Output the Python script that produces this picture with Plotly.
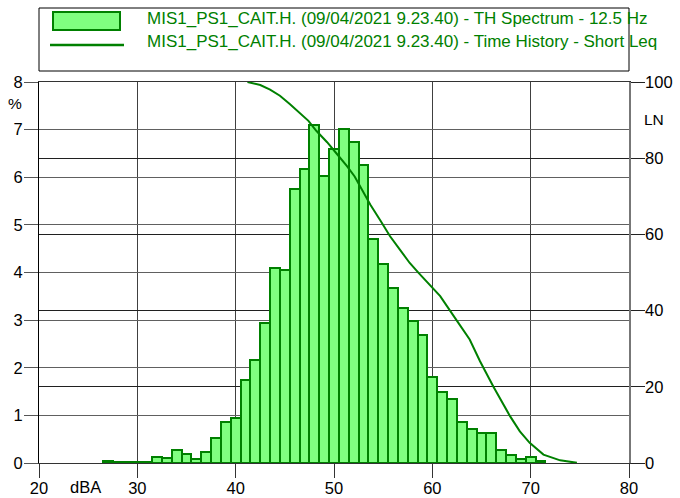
import plotly.graph_objects as go

# ---- data ----
bar_x = list(range(27, 72))
bar_pct = [0.05, 0.02, 0.02, 0.02, 0.02, 0.12, 0.11, 0.27, 0.19, 0.08,
           0.23, 0.53, 0.86, 0.95, 1.75, 2.16, 2.95, 4.09, 4.05, 5.76,
           6.18, 7.10, 6.03, 6.60, 7.02, 6.75, 6.25, 4.70, 4.17, 3.68,
           3.26, 2.98, 2.68, 1.81, 1.50, 1.35, 0.87, 0.72, 0.64, 0.64,
           0.27, 0.16, 0.09, 0.12, 0.05]

ln_x = [41.2, 42.5, 43.5, 44.5, 45.5, 46.5, 47.4, 48.2, 49.3, 50.3,
        51.3, 52.1, 52.65, 53.7, 54.7, 55.7, 56.7, 57.7, 58.6, 59.9,
        60.8, 62.3, 63.8, 64.85, 66.2, 67.9, 68.9, 69.9, 71.3, 73.0, 74.7]
ln_y = [100.0, 99.2, 98.0, 96.4, 94.2, 91.9, 89.8, 87.2, 84.2, 81.1,
        78.0, 75.2, 72.6, 67.8, 63.7, 59.5, 56.0, 52.5, 49.9, 46.4,
        43.8, 38.1, 32.4, 26.7, 20.1, 12.3, 8.3, 5.3, 2.2, 0.7, 0.05]

name_bar = "MIS1_PS1_CAIT.H. (09/04/2021 9.23.40) - TH Spectrum - 12.5 Hz"
name_line = "MIS1_PS1_CAIT.H. (09/04/2021 9.23.40) - Time History - Short Leq"

x_ticks = [20, 30, 40, 50, 60, 70, 80]
y_ticks = [0, 1, 2, 3, 4, 5, 6, 7, 8]
y2_ticks = [0, 20, 40, 60, 80, 100]

DARK = "#008000"
LIGHT = "#80FF80"
FONT = "Arial, Liberation Sans, sans-serif"
FS = 16.5

fig = go.Figure()
fig.add_trace(go.Bar(x=bar_x, y=bar_pct, width=1, name=name_bar,
                     marker=dict(color=LIGHT, line=dict(color=DARK, width=2)),
                     showlegend=False))
fig.add_trace(go.Scatter(x=ln_x, y=ln_y, yaxis="y2", mode="lines", name=name_line,
                         line=dict(color=DARK, width=2), showlegend=False))

fig.update_layout(
    width=680, height=498,
    margin=dict(l=39, r=51, t=82, b=35, autoexpand=False),
    plot_bgcolor="white", paper_bgcolor="white",
    font=dict(family=FONT, size=FS, color="black"),
    bargap=0,
    xaxis=dict(range=[20, 80], tickvals=x_ticks, ticks="outside", ticklen=14,
               tickcolor="#333", showgrid=True, gridcolor="#404040", gridwidth=1,
               showline=True, linecolor="#333", linewidth=1, mirror=True,
               zeroline=False, tickfont=dict(size=FS), automargin=False,
               ticklabelstandoff=-4),
    yaxis=dict(range=[0, 8], tickvals=y_ticks, ticks="outside", ticklen=14,
               tickcolor="#555", showgrid=True, gridcolor="#606060", gridwidth=1,
               showline=True, linecolor="black", linewidth=1,
               zeroline=False, tickfont=dict(size=FS), automargin=False,
               ticklabelstandoff=-2),
    yaxis2=dict(range=[0, 100], tickvals=y2_ticks, ticks="outside", ticklen=14,
                tickcolor="#222", overlaying="y", side="right",
                showgrid=True, gridcolor="#202020", gridwidth=1,
                showline=True, linecolor="#777", linewidth=1.5,
                zeroline=False, tickfont=dict(size=FS), automargin=False,
                ticklabelstandoff=-3),
)

W, H = 680, 498
L, R, T, B = 39, 629, 82, 463
def px(x):
    return (x - L) / (R - L)
def py(y):
    return (B - y) / (B - T)

# axis unit labels
fig.add_annotation(xref="paper", yref="paper", x=px(15), y=py(104), text="%",
                   showarrow=False, font=dict(size=FS - 1), xanchor="center", yanchor="middle")
fig.add_annotation(xref="paper", yref="paper", x=px(654), y=py(120), text="LN",
                   showarrow=False, font=dict(size=FS - 1), xanchor="center", yanchor="middle")
fig.add_annotation(xref="paper", yref="paper", x=px(85), y=py(487), text="dBA",
                   showarrow=False, font=dict(size=FS), xanchor="center", yanchor="middle")

# legend box (drawn manually)
fig.add_shape(type="rect", xref="paper", yref="paper",
              x0=px(39), x1=px(629), y0=py(71), y1=py(8),
              line=dict(color="black", width=1), fillcolor="rgba(0,0,0,0)")
fig.add_shape(type="rect", xref="paper", yref="paper",
              x0=px(53), x1=px(120), y0=py(30), y1=py(12),
              line=dict(color=DARK, width=2), fillcolor=LIGHT)
fig.add_shape(type="line", xref="paper", yref="paper",
              x0=px(50), x1=px(124), y0=py(45), y1=py(45),
              line=dict(color=DARK, width=2.5))
fig.add_annotation(xref="paper", yref="paper", x=px(145), y=py(18), text=name_bar,
                   showarrow=False, xanchor="left", yanchor="middle",
                   font=dict(size=17, color=DARK))
fig.add_annotation(xref="paper", yref="paper", x=px(145), y=py(42), text=name_line,
                   showarrow=False, xanchor="left", yanchor="middle",
                   font=dict(size=17, color=DARK))

fig.write_html("out.html", config={"displayModeBar": False},
               post_script="document.body.style.margin='0';document.body.style.padding='0';document.body.style.overflow='hidden';")
